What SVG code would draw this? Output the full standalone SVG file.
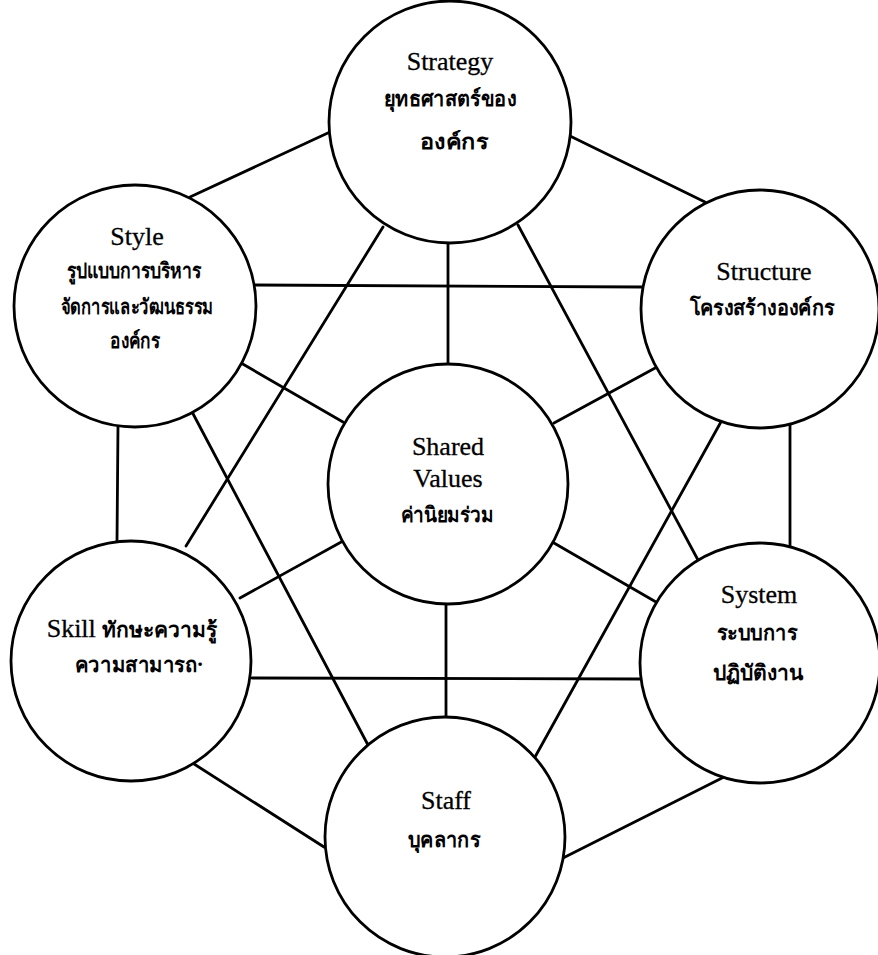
<svg xmlns="http://www.w3.org/2000/svg" width="878" height="955" viewBox="0 0 878 955">
<style>
.node{fill:#fff;stroke:#000;stroke-width:2.8}
.en{font-family:"Liberation Serif","Times New Roman",serif;font-size:26px;fill:#000;text-anchor:middle;stroke:#000;stroke-width:0.3}
.th{font-family:"Noto Sans","DejaVu Sans",sans-serif;font-weight:bold;font-size:21px;fill:#000;text-anchor:middle}
.conn{stroke:#000;stroke-width:2.8;fill:none;stroke-linecap:round}
</style>
<rect width="878" height="955" fill="#fff"/>
<g id="connectors" class="conn">
<path d="M190 197 L330 132"/>
<path d="M570 136 L705 202"/>
<path d="M255 285 L643 287"/>
<path d="M448 243 L448 364"/>
<path d="M241 363 L343 422"/>
<path d="M657 367 L554 423"/>
<path d="M383 227 L186 546"/>
<path d="M518 225 L698 560"/>
<path d="M190 408 L368 745"/>
<path d="M722 420 L535 757"/>
<path d="M118 425 L117 542"/>
<path d="M790 424 L790 547"/>
<path d="M343 541 L240 598"/>
<path d="M554 543 L656 602"/>
<path d="M252 678 L641 679"/>
<path d="M446 604 L446 717"/>
<path d="M191 762 L324 847"/>
<path d="M726 776 L563 858"/>
</g>
<g id="strategy">
<circle class="node" cx="450" cy="122" r="121"/>
<text class="en" x="450" y="70">Strategy</text>
<text class="th" x="450" y="106" font-size="22" textLength="132" lengthAdjust="spacingAndGlyphs">ยุทธศาสตร์ของ</text>
<text class="th" x="454" y="149" font-size="22" textLength="68" lengthAdjust="spacingAndGlyphs">องค์กร</text>
</g>
<g id="style">
<circle class="node" cx="135" cy="306" r="121"/>
<text class="en" x="137" y="245">Style</text>
<text class="th" x="134" y="278" textLength="135" lengthAdjust="spacingAndGlyphs">รูปแบบการบริหาร</text>
<text class="th" x="137" y="314" textLength="153" lengthAdjust="spacingAndGlyphs">จัดการและวัฒนธรรม</text>
<text class="th" x="135" y="348" textLength="50" lengthAdjust="spacingAndGlyphs">องค์กร</text>
</g>
<g id="structure">
<circle class="node" cx="760" cy="309" r="119"/>
<text class="en" x="764" y="280">Structure</text>
<text class="th" x="762" y="315" textLength="145" lengthAdjust="spacingAndGlyphs">โครงสร้างองค์กร</text>
</g>
<g id="shared-values">
<circle class="node" cx="448" cy="484" r="120"/>
<text class="en" x="448" y="455">Shared</text>
<text class="en" x="448" y="487">Values</text>
<text class="th" x="447" y="522" textLength="93" lengthAdjust="spacingAndGlyphs">ค่านิยมร่วม</text>
</g>
<g id="skill">
<circle class="node" cx="131" cy="661" r="120"/>
<text class="en" x="132" y="637">Skill <tspan class="th" stroke-width="0" font-size="21">ทักษะความรู้</tspan></text>
<text class="th" x="139" y="672" textLength="128" lengthAdjust="spacingAndGlyphs">ความสามารถ·</text>
</g>
<g id="system">
<circle class="node" cx="760" cy="663" r="120"/>
<text class="en" x="759" y="603">System</text>
<text class="th" x="757" y="640" textLength="80" lengthAdjust="spacingAndGlyphs">ระบบการ</text>
<text class="th" x="758" y="680" textLength="90" lengthAdjust="spacingAndGlyphs">ปฏิบัติงาน</text>
</g>
<g id="staff">
<circle class="node" cx="445" cy="837" r="120"/>
<text class="en" x="446" y="809">Staff</text>
<text class="th" x="444" y="847" textLength="72" lengthAdjust="spacingAndGlyphs">บุคลากร</text>
</g>
</svg>
